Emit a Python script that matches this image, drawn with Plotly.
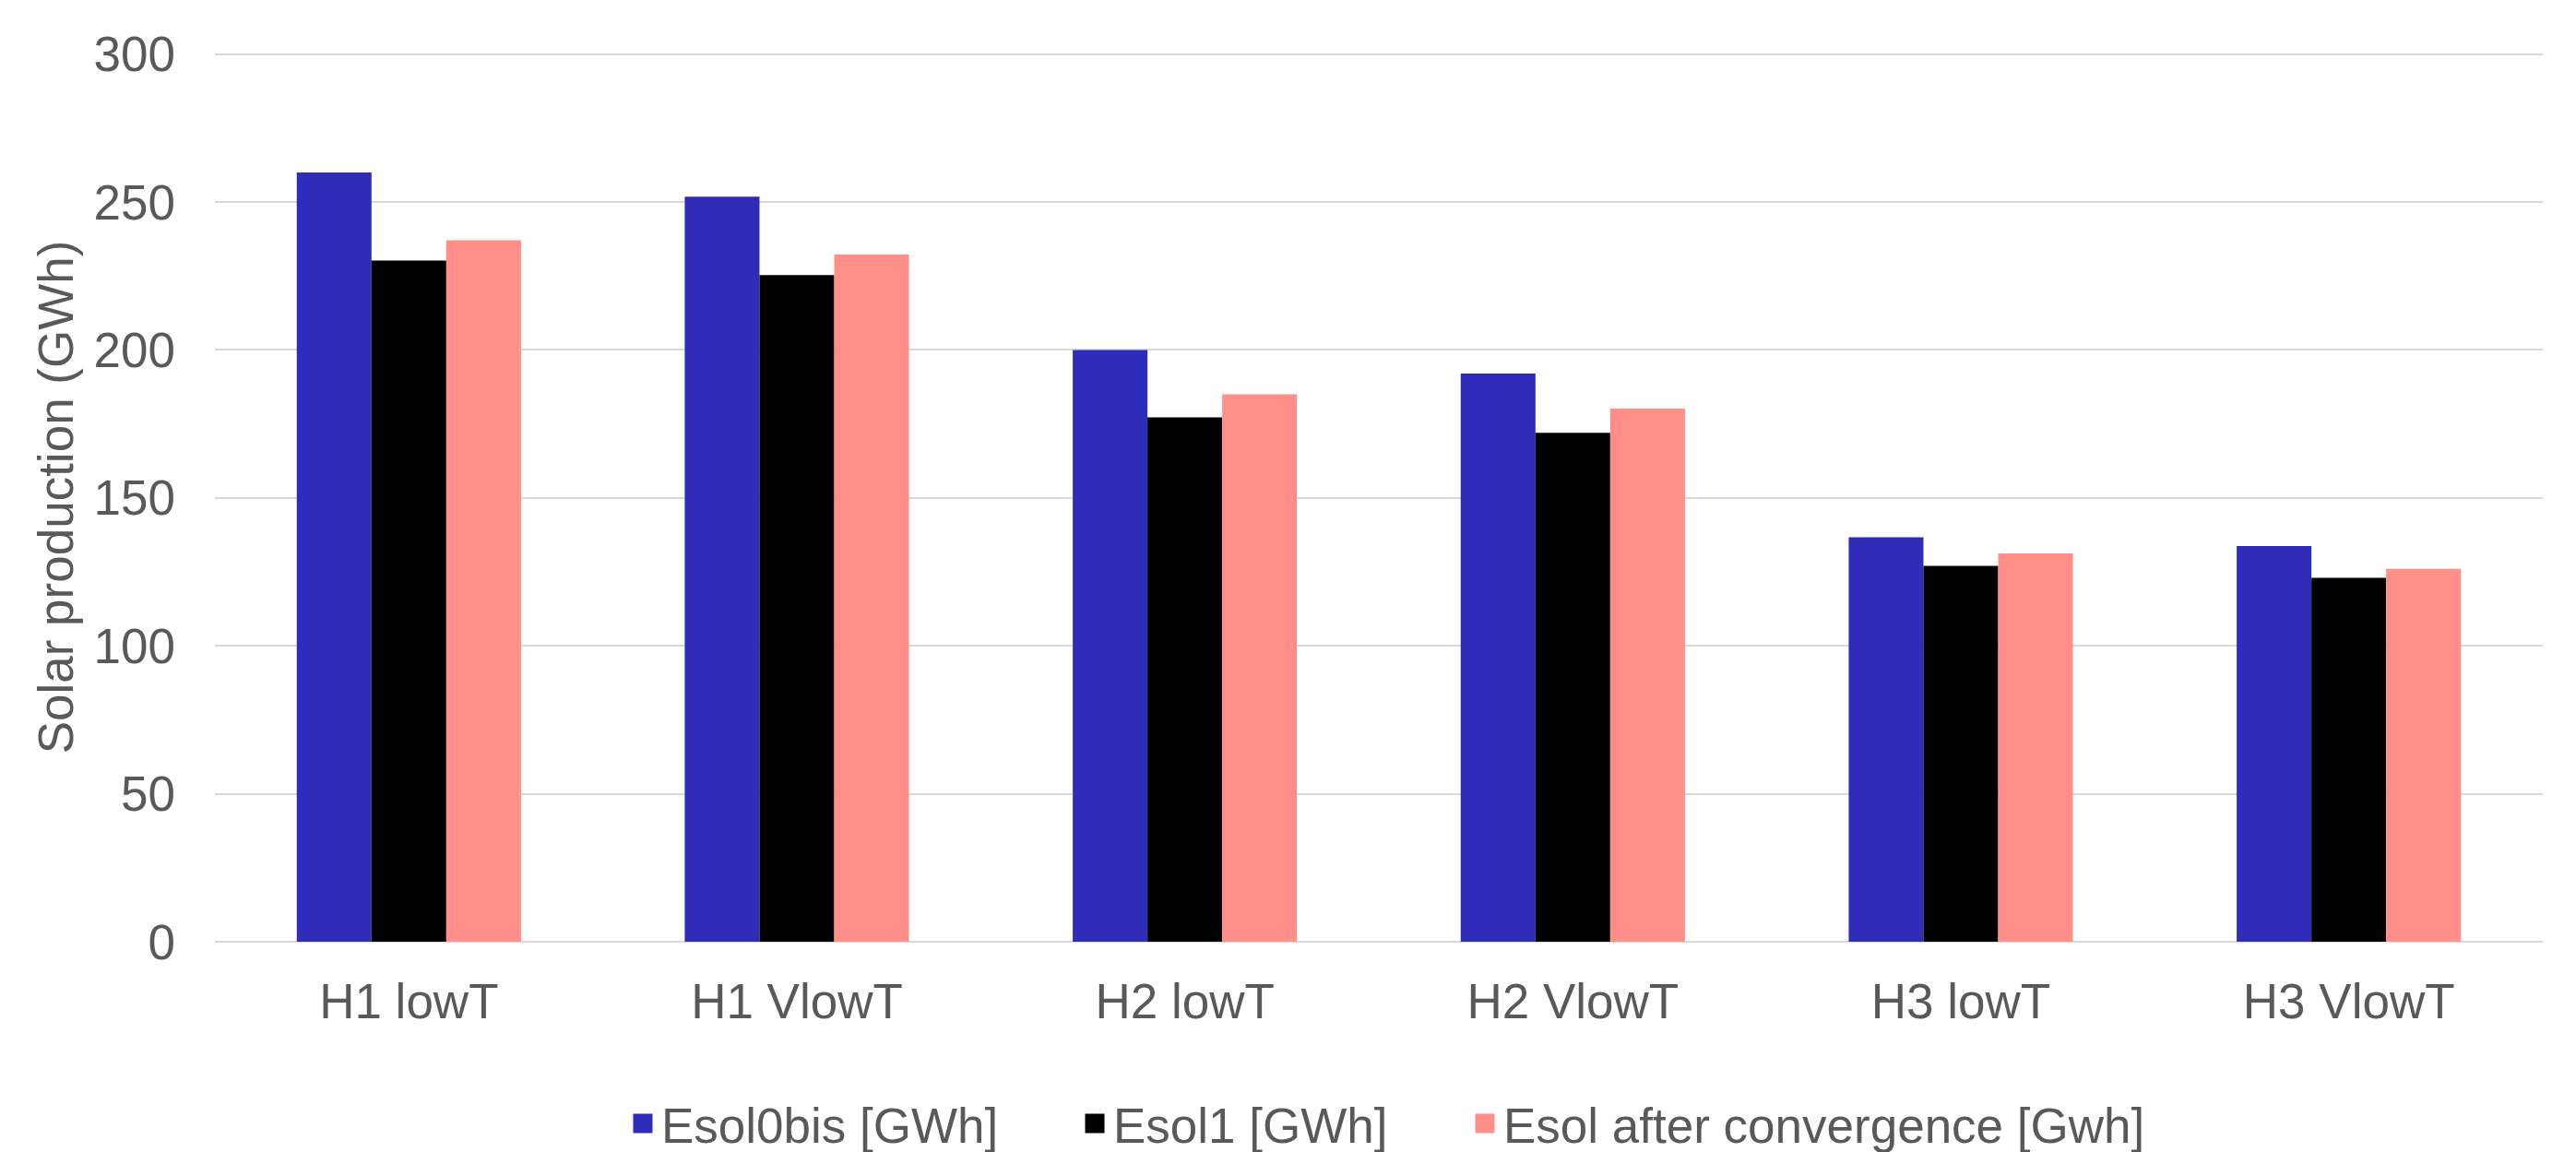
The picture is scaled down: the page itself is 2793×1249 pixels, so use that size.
import plotly.graph_objects as go

categories = ["H1 lowT", "H1 VlowT", "H2 lowT", "H2 VlowT", "H3 lowT", "H3 VlowT"]
esol0bis = [260.0, 251.8, 200.0, 192.0, 136.7, 133.7]
esol1 = [230.2, 225.3, 177.2, 172.0, 127.0, 123.0]
esol_conv = [237.1, 232.2, 185.0, 180.2, 131.2, 126.0]

series_names = ["Esol0bis [GWh]", "Esol1 [GWh]", "Esol after convergence [Gwh]"]
series_values = [esol0bis, esol1, esol_conv]
series_colors = ["#2E2CB8", "#000000", "#FF8F88"]

y_ticks = [0, 50, 100, 150, 200, 250, 300]

FONT = "Liberation Sans, Arial, sans-serif"
TXT = "#595959"
FS = 53
# page body has an 8px margin, so the figure is placed 8px in from the corner
W, H = 2785, 1241
L, R, T, B = 225, 36, 49, 228

fig = go.Figure()
for name, vals, col in zip(series_names, series_values, series_colors):
    fig.add_trace(go.Bar(x=categories, y=vals, name=name, marker_color=col,
                         marker_line_width=0, showlegend=False))

legend_text_left = [709, 1199, 1622]
legend_ids = ["legend", "legend2", "legend3"]
for name, col, lid in zip(series_names, series_colors, legend_ids):
    fig.add_trace(go.Scatter(x=[None], y=[None], mode="markers", name=name,
                             marker=dict(symbol="square", size=16, color=col,
                                         line=dict(color=col, width=5)),
                             legend=lid, showlegend=True))

legend_common = dict(orientation="h", xref="container", yref="container",
                     yanchor="middle", y=1 - 1210 / H, xanchor="left",
                     font=dict(family=FONT, size=FS, color=TXT),
                     bgcolor="rgba(0,0,0,0)", borderwidth=0, itemsizing="trace")
layout_legends = {}
for lid, tl in zip(legend_ids, legend_text_left):
    layout_legends[lid] = dict(legend_common, x=(tl - 40) / W)

fig.update_layout(
    width=W, height=H,
    margin=dict(l=L, r=R, t=T, b=B, pad=0),
    paper_bgcolor="white", plot_bgcolor="white",
    barmode="group", bargap=0.422, bargroupgap=0,
    font=dict(family=FONT, size=FS, color=TXT),
    xaxis=dict(type="category", showgrid=False, showline=False, zeroline=False,
               ticks="", ticklabelstandoff=29, automargin=False,
               tickfont=dict(family=FONT, size=FS, color=TXT)),
    yaxis=dict(range=[0, 300.5], tickvals=y_ticks, showgrid=True,
               gridcolor="#D9D9D9", gridwidth=2, zeroline=True,
               zerolinecolor="#D9D9D9", zerolinewidth=2, showline=False,
               ticks="", ticklabelstandoff=42, automargin=False,
               tickfont=dict(family=FONT, size=FS, color=TXT),
               title=dict(text="Solar production (GWh)", standoff=5,
                          font=dict(family=FONT, size=FS, color=TXT))),
    **layout_legends,
)

fig.write_html("out.html")
